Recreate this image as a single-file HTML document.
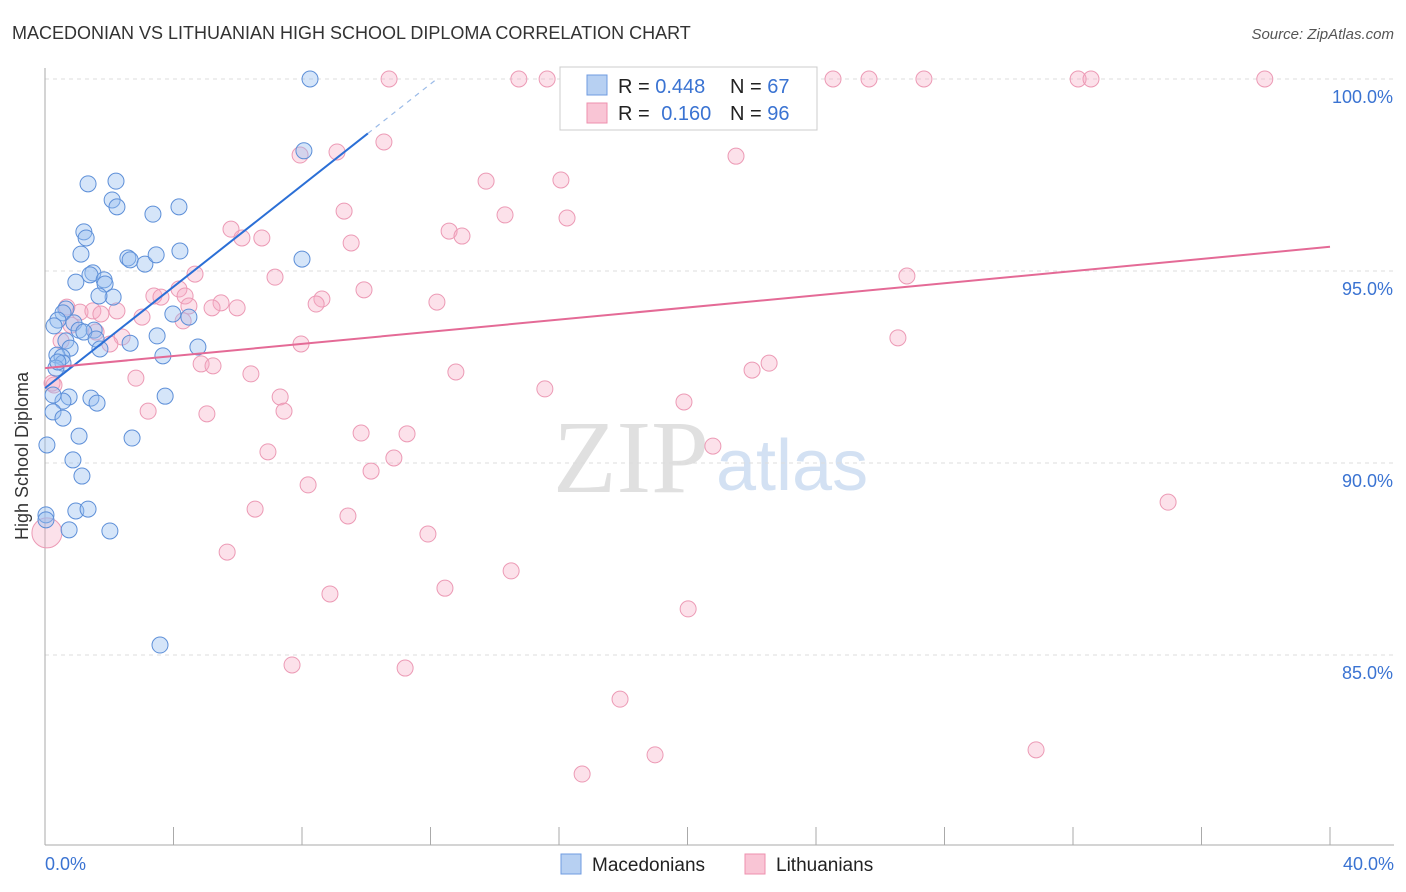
<!DOCTYPE html>
<html><head><meta charset="utf-8"><style>
body{margin:0;background:#fff;font-family:"Liberation Sans",sans-serif;}
svg{display:block}
</style></head><body>
<svg id="chart" width="1406" height="892" xmlns="http://www.w3.org/2000/svg">
<text x="12" y="39" font-size="18" fill="#333">MACEDONIAN VS LITHUANIAN HIGH SCHOOL DIPLOMA CORRELATION CHART</text>
<text x="1394" y="39" font-size="15" fill="#555" text-anchor="end" font-style="italic">Source: ZipAtlas.com</text>
<text x="553" y="492" font-size="104" fill="#e0e0e0" font-family="Liberation Serif">ZIP</text>
<text x="716" y="490" font-size="72" fill="#d3e1f3">atlas</text>
<g id="grid"></g>
<g id="axes"></g>
<g id="pts"></g>
<g id="lines"></g>
<text x="28" y="456" font-size="18" fill="#333" text-anchor="middle" transform="rotate(-90 28 456)">High School Diploma</text>
<g>
<rect x="560" y="67" width="257" height="63" fill="#fff" stroke="#ccc"/>
<rect x="587" y="75" width="20" height="20" fill="#b7d0f2" stroke="#6f9be0"/>
<rect x="587" y="103" width="20" height="20" fill="#f9c5d5" stroke="#ee90ae"/>
<text x="618" y="93" font-size="20" fill="#222">R = <tspan fill="#3a73d2">0.448</tspan></text>
<text x="730" y="93" font-size="20" fill="#222">N = <tspan fill="#3a73d2">67</tspan></text>
<text x="618" y="120" font-size="20" fill="#222">R = <tspan fill="#3a73d2" dx="6">0.160</tspan></text>
<text x="730" y="120" font-size="20" fill="#222">N = <tspan fill="#3a73d2">96</tspan></text>
</g>
<g>
<rect x="561" y="854" width="20" height="20" fill="#b7d0f2" stroke="#6f9be0"/>
<text x="592" y="871" font-size="19" fill="#222">Macedonians</text>
<rect x="745" y="854" width="20" height="20" fill="#f9c5d5" stroke="#ee90ae"/>
<text x="776" y="871" font-size="19" fill="#222">Lithuanians</text>
</g>
</svg>
<script>
const blueX=[8.25,8.06,2.21,1.34,2.09,2.24,3.36,4.17,1.21,1.28,1.12,2.58,2.65,3.11,3.46,4.20,8.00,1.49,1.40,0.96,1.84,1.87,2.12,1.68,0.65,0.56,0.40,0.28,0.90,1.06,1.53,1.21,3.98,4.48,3.49,1.59,2.65,0.65,0.78,1.71,4.76,0.37,0.53,0.56,3.67,0.34,3.74,0.75,0.56,1.43,1.62,0.25,0.56,1.06,2.71,0.06,0.87,1.15,0.96,1.34,0.03,0.03,0.75,2.02,3.58,0.25,0.40];
const blueY=[100,98.13,97.34,97.27,96.85,96.67,96.48,96.67,96.02,95.86,95.44,95.34,95.29,95.18,95.42,95.52,95.31,94.95,94.90,94.71,94.77,94.66,94.32,94.35,94.01,93.91,93.72,93.57,93.65,93.46,93.46,93.41,93.88,93.80,93.31,93.23,93.12,93.18,92.99,92.97,93.02,92.81,92.76,92.60,92.79,92.47,91.74,91.72,91.61,91.69,91.56,91.33,91.17,90.70,90.65,90.47,90.08,89.66,88.75,88.80,88.65,88.52,88.26,88.23,85.26,91.77,92.63];
const pinkX=[10.71,14.75,15.63,17.68,21.85,22.72,23.63,24.53,25.65,27.36,32.16,32.56,37.97,7.94,9.09,10.55,21.51,13.73,16.06,9.31,14.32,16.25,5.79,6.13,6.75,12.58,12.98,9.53,7.16,4.67,26.83,3.39,3.61,4.17,4.36,5.48,5.98,8.62,8.44,9.93,12.20,0.68,1.09,1.49,1.74,2.24,3.02,4.48,4.30,5.20,26.55,7.97,0.81,1.59,2.40,0.50,2.02,4.86,5.23,0.22,2.83,22.54,22.01,6.41,12.79,7.32,7.44,3.21,5.04,15.56,19.89,9.84,11.27,20.79,6.94,10.15,10.86,8.19,6.54,9.43,34.96,11.92,5.67,14.51,12.45,8.87,20.02,7.69,11.21,17.90,30.85,18.99,16.72,0.06,0.28];
const pinkY=[100,100,100,100,100,100,100,100,100,100,100,100,100,98.02,98.10,98.36,97.99,97.34,97.37,96.56,96.46,96.38,96.09,95.86,95.86,96.04,95.91,95.73,94.84,94.92,94.87,94.35,94.32,94.53,94.35,94.17,94.04,94.27,94.14,94.51,94.19,94.06,93.93,93.96,93.88,93.96,93.80,94.09,93.70,94.04,93.26,93.10,93.59,93.41,93.28,93.18,93.10,92.58,92.53,92.08,92.21,92.60,92.42,92.32,92.37,91.72,91.35,91.35,91.28,91.93,91.59,90.78,90.76,90.44,90.29,89.79,90.13,89.43,88.80,88.62,88.98,88.15,87.68,87.19,86.74,86.59,86.20,84.74,84.66,83.85,82.53,82.40,81.90,88.18,92.03];
const yTicks=[100,95,90,85];
const yTickLabels=["100.0%","95.0%","90.0%","85.0%"];
const xTicks=[0,4,8,12,16,20,24,28,32,36,40];
const blueLine=[91.95,0.66];
const pinkLine=[92.47,0.079];
const NS="http://www.w3.org/2000/svg";
const sx=v=>45+v*32.125;
const sy=v=>79+(100-v)*38.4;
function mk(t,a,p){const e=document.createElementNS(NS,t);for(const k in a)e.setAttribute(k,a[k]);p.appendChild(e);return e;}
const grid=document.getElementById('grid'),axes=document.getElementById('axes'),pts=document.getElementById('pts'),lines=document.getElementById('lines');
yTicks.forEach((t,i)=>{
 const l=mk('line',{x1:45,x2:1394,y1:sy(t),y2:sy(t),stroke:'#ddd','stroke-dasharray':'4,4'},grid);
 
 
 const tx=mk('text',{x:1393,y:sy(t)+24,'font-size':18,fill:'#3a73d2','text-anchor':'end'},axes);
 tx.textContent=yTickLabels[i];
 
 
});
const ya=mk('line',{x1:45,x2:45,y1:68,y2:845,stroke:'#aaa'},axes);


const xa=mk('line',{x1:45,x2:1394,y1:845,y2:845,stroke:'#aaa'},axes);


xTicks.forEach(t=>{
 const l=mk('line',{x1:sx(t),x2:sx(t),y1:827,y2:845,stroke:'#aaa'},axes);
 
 
});
[[0,'0.0%','start'],[40,'40.0%','end']].forEach(([v,s,a])=>{
 const tx=mk('text',{x:v===0?45:1394,y:870,'font-size':18,fill:'#3a73d2','text-anchor':a},axes);
 tx.textContent=s;
 
 
});
pinkX.forEach((x,i)=>{
 const c=mk('circle',{cx:sx(x),cy:sy(pinkY[i]),r:(i===pinkX.length-2)?15:8,fill:'rgba(245,170,195,0.35)',stroke:'#ec9ab5','stroke-width':1},pts);
 
 
});
blueX.forEach((x,i)=>{
 const c=mk('circle',{cx:sx(x),cy:sy(blueY[i]),r:8,fill:'rgba(150,190,240,0.4)',stroke:'#5d8fd8','stroke-width':1},pts);
 
 
});
const bl=mk('line',{x1:sx(0),y1:sy(blueLine[0]),x2:sx(10.05),y2:sy(blueLine[0]+blueLine[1]*10.05),stroke:'#2b6fd6','stroke-width':2},lines);


const xe=(100-blueLine[0])/blueLine[1];
const bd=mk('line',{x1:sx(10.05),y1:sy(blueLine[0]+blueLine[1]*10.05),x2:sx(xe),y2:sy(100),stroke:'#9bbbe8','stroke-width':1.2,'stroke-dasharray':'5,5'},lines);


const pl=mk('line',{x1:sx(0),y1:sy(pinkLine[0]),x2:sx(40),y2:sy(pinkLine[0]+pinkLine[1]*40),stroke:'#e46a96','stroke-width':2},lines);


</script>
</body></html>
